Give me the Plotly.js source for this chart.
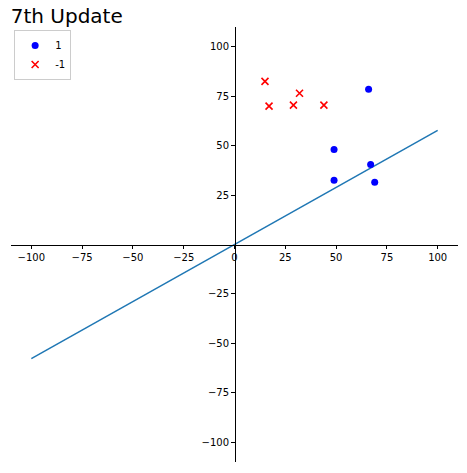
<!DOCTYPE html>
<html><head><meta charset="utf-8">
<script src="https://cdn.plot.ly/plotly-3.0.1.min.js"></script>
<style>html,body{margin:0;padding:0;background:#fff}#c{width:467px;height:473px}</style>
</head><body><div id="c"></div>
<script>
const posX = [49, 49, 66, 67, 69];
const posY = [48, 32.5, 78.5, 40.5, 31.5];
const negX = [15, 17, 29, 32, 44];
const negY = [82.5, 70, 70.5, 76.5, 70.5];
const lineX = [-100, 100];
const lineY = [-57.7, 57.7];
const xTicks = [-100, -75, -50, -25, 0, 25, 50, 75, 100];
const yTicks = [-100, -75, -50, -25, 25, 50, 75, 100];

const font = {family: 'DejaVu Sans', size: 10, color: '#000'};
const data = [
  {x: lineX, y: lineY, mode: 'lines', line: {color: '#1f77b4', width: 1.5}, showlegend: false, hoverinfo: 'skip'},
  {x: posX, y: posY, mode: 'markers', name: '1', marker: {color: 'blue', size: 7, symbol: 'circle'}},
  {x: negX, y: negY, mode: 'markers', name: '-1', marker: {color: 'red', size: 7, symbol: 'x-thin-open', line: {color: 'red', width: 1.6}}}
];
const axisCommon = {
  showgrid: false, zeroline: false, showline: true, linecolor: '#000', linewidth: 1,
  ticks: 'outside', ticklen: 3.5, tickcolor: '#000', tickwidth: 1,
  anchor: 'free', position: 0.5, tickfont: font
};
const layout = {
  width: 467, height: 473,
  margin: {l: 11, r: 9, t: 27, b: 11},
  paper_bgcolor: '#fff', plot_bgcolor: '#fff',
  font: font,
  title: {text: '7th Update', x: 0.023, xanchor: 'left', y: 0.967, yanchor: 'middle', font: {family: 'DejaVu Sans', size: 20, color: '#000'}},
  xaxis: Object.assign({}, axisCommon, {range: [-110, 110], tickvals: xTicks, ticktext: xTicks.map(v => v < 0 ? '\u2212' + (-v) : String(v))}),
  yaxis: Object.assign({}, axisCommon, {range: [-110, 110], tickvals: yTicks, ticktext: yTicks.map(v => v < 0 ? '\u2212' + (-v) : String(v))}),
  legend: {x: 0.007, y: 0.993, xanchor: 'left', yanchor: 'top', bgcolor: 'rgba(255,255,255,0.8)', bordercolor: '#ccc', borderwidth: 1, font: font, itemwidth: 30, tracegroupgap: 0},
  showlegend: true
};
Plotly.newPlot('c', data, layout, {displayModeBar: false, staticPlot: true});
</script></body></html>
